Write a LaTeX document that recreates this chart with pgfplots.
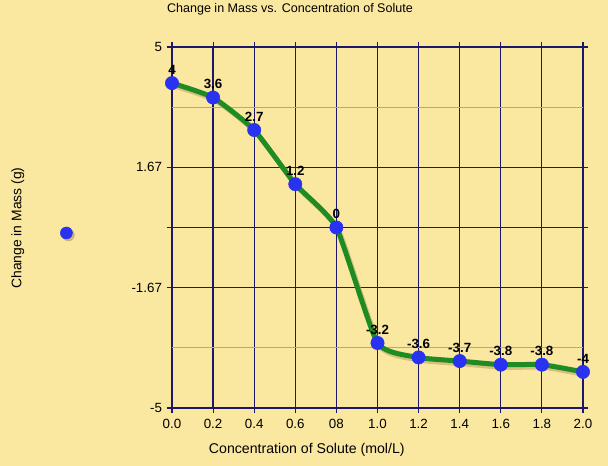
\documentclass[border=0pt]{standalone}
\usepackage{pgfplots}
\pgfplotsset{compat=1.18}
\usepackage{fontspec}
\setmainfont{Liberation Sans}
\definecolor{bgy}{RGB}{250,231,160}
\definecolor{gridn}{RGB}{30,22,105}
\definecolor{gridl}{RGB}{175,165,165}
\definecolor{lgreen}{RGB}{30,140,35}
\definecolor{mblue}{RGB}{40,50,240}
\definecolor{shadow}{RGB}{190,165,105}
\begin{document}
\begin{tikzpicture}
\useasboundingbox[fill=bgy] (-129pt,-43.5pt) rectangle (327pt,306pt);
\begin{axis}[
  at={(0,0)}, anchor=south west,
  scale only axis, width=308.25pt, height=270.75pt,
  xmin=0, xmax=2, ymin=-5, ymax=5,
  clip=false,
  axis line style={gridn, line width=0.9pt},
  xtick={0,0.2,...,2.01},
  xticklabels={0.0,0.2,0.4,0.6,08,1.0,1.2,1.4,1.6,1.8,2.0},
  ytick={-5,-1.6667,1.6667,5},
  yticklabels={-5,-1.67,1.67,5},
  extra y ticks={0},
  extra y tick labels={},
  extra y tick style={grid style={gridn, line width=0.9pt}},
  tick align=outside, major tick length=4pt,
  tick style={gridn, line width=0.8pt},
  grid=major,
  major grid style={gridn, line width=0.9pt},
  ticklabel style={font=\fontsize{10}{11}\selectfont, text=black},
  xticklabel style={yshift=-1pt},
  title={Change in Mass vs. Concentration of Solute},
  title style={at={(axis description cs:0.287,1.083)}, anchor=center, font=\fontsize{9.4}{11}\selectfont},
  xlabel={Concentration of Solute (mol/L)},
  xlabel style={at={(axis description cs:0.328,-0.116)}, anchor=center, font=\fontsize{10.6}{12}\selectfont},
  ylabel={Change in Mass (g)},
  ylabel style={at={(axis description cs:-0.375,0.4986)}, anchor=center, rotate=0, font=\fontsize{10.4}{12}\selectfont},
  legend style={at={(axis description cs:-0.248,0.482)}, anchor=center, draw=none, fill=none},
  legend image code/.code={\fill[shadow, opacity=0.7] (1.5pt,-1.5pt) circle (4.5pt); \fill[mblue] (0,0) circle (4.5pt);},
]
\addplot[gridl, line width=0.6pt, forget plot] coordinates {(0,3.3333) (2,3.3333)};
\addplot[gridl, line width=0.6pt, forget plot] coordinates {(0,-3.3333) (2,-3.3333)};
\addplot[shadow, opacity=0.6, line width=3.75pt, smooth, tension=0.3, xshift=1.5pt, yshift=-2pt, forget plot] coordinates {
(0,4) (0.2,3.6) (0.4,2.7) (0.6,1.2) (0.8,0) (1.0,-3.2) (1.2,-3.6) (1.4,-3.7) (1.6,-3.8) (1.8,-3.8) (2.0,-4)};
\addplot[lgreen, line width=3.75pt, smooth, tension=0.3, forget plot] coordinates {
(0,4) (0.2,3.6) (0.4,2.7) (0.6,1.2) (0.8,0) (1.0,-3.2) (1.2,-3.6) (1.4,-3.7) (1.6,-3.8) (1.8,-3.8) (2.0,-4)};
\addplot[only marks, mark=*, mark size=5pt, mark options={fill=mblue, draw=mblue},
  point meta=explicit symbolic,
  nodes near coords,
  nodes near coords style={font=\bfseries\fontsize{10}{11}\selectfont, text=black, anchor=south, yshift=3pt}]
  table[meta=lab] {
x y lab
0 4 4
0.2 3.6 3.6
0.4 2.7 2.7
0.6 1.2 1.2
0.8 0 0
1.0 -3.2 -3.2
1.2 -3.6 -3.6
1.4 -3.7 -3.7
1.6 -3.8 -3.8
1.8 -3.8 -3.8
2.0 -4 -4
};
\addlegendentry{}
\end{axis}
\end{tikzpicture}
\end{document}
